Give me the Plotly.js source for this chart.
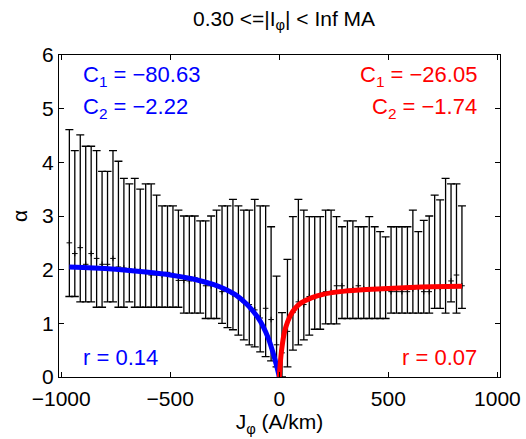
<!DOCTYPE html>
<html>
<head>
<meta charset="utf-8">
<script src="https://cdn.plot.ly/plotly-3.0.1.min.js"></script>
<style>html,body{margin:0;padding:0;background:#fff}#chart{width:526px;height:439px}</style>
</head>
<body>
<div id="chart"></div>
<script>
// Bin centres (A/km)
var leftJ = [-962.5, -937.5, -912.5, -887.5, -862.5, -837.5, -812.5, -787.5, -762.5, -737.5,
  -712.5, -687.5, -662.5, -637.5, -612.5, -587.5, -562.5, -537.5, -512.5, -487.5,
  -462.5, -437.5, -412.5, -387.5, -362.5, -337.5, -312.5, -287.5, -262.5, -237.5,
  -212.5, -187.5, -162.5, -137.5, -112.5, -87.5, -62.5, -37.5, -12.5];
var leftMean = [2.50, 2.30, 2.41, 2.10, 2.30, 2.21, 2.10, 2.10, 2.21, 2.05,
  2.03, 2.01, 2.00, 1.98, 1.95, 1.90, 1.90, 1.90, 1.95, 1.90,
  1.80, 1.80, 1.79, 1.85, 1.78, 1.70, 1.70, 1.70, 1.59, 1.62,
  1.55, 1.50, 1.40, 1.35, 1.25, 1.10, 1.28, 1.07, 0.60];
var leftUpper = [4.61, 4.22, 4.51, 4.30, 4.30, 4.22, 3.83, 3.83, 4.22, 4.02,
  3.70, 3.60, 3.70, 3.50, 3.60, 3.60, 3.39, 3.19, 3.19, 3.19,
  3.11, 3.00, 3.00, 3.00, 2.91, 2.91, 3.00, 3.11, 3.19, 3.19,
  3.31, 3.19, 3.11, 3.11, 3.31, 3.19, 3.19, 2.80, 1.88];
var leftLower = [1.50, 1.50, 1.40, 1.40, 1.40, 1.30, 1.30, 1.40, 1.40, 1.30,
  1.30, 1.40, 1.30, 1.30, 1.30, 1.30, 1.30, 1.30, 1.30, 1.30,
  1.30, 1.19, 1.19, 1.19, 1.19, 1.09, 1.09, 1.09, 1.00, 0.92,
  0.88, 0.78, 0.69, 0.60, 0.56, 0.47, 0.38, 0.30, 0.19];

var rightJ = [12.5, 37.5, 62.5, 87.5, 112.5, 137.5, 162.5, 187.5, 212.5, 237.5,
  262.5, 287.5, 312.5, 337.5, 362.5, 387.5, 412.5, 437.5, 462.5, 487.5,
  512.5, 537.5, 562.5, 587.5, 612.5, 637.5, 662.5, 687.5, 712.5, 737.5,
  762.5, 787.5, 812.5, 837.5];
var rightMean = [0.45, 0.85, 1.20, 1.40, 1.35, 1.50, 1.48, 1.52, 1.59, 1.58,
  1.70, 1.70, 1.62, 1.63, 1.70, 1.64, 1.63, 1.65, 1.62, 1.64,
  1.59, 1.59, 1.59, 1.59, 1.64, 1.66, 1.59, 1.59, 1.66, 1.67,
  1.68, 1.79, 1.90, 1.70];
var rightUpper = [1.20, 2.19, 2.99, 3.31, 3.11, 2.99, 2.99, 2.99, 3.11, 3.11,
  2.99, 2.80, 2.91, 2.91, 2.80, 2.80, 2.99, 2.80, 2.71, 2.61,
  2.80, 2.80, 2.80, 2.80, 3.11, 2.71, 2.92, 3.00, 3.39, 3.30,
  3.70, 3.60, 3.60, 3.19];
var rightLower = [0.00, 0.19, 0.50, 0.60, 0.69, 0.78, 0.89, 0.89, 0.99, 0.99,
  0.99, 1.09, 1.09, 1.09, 1.09, 1.09, 1.09, 1.09, 1.09, 1.09,
  1.19, 1.19, 1.19, 1.19, 1.19, 1.19, 1.19, 1.19, 1.28, 1.28,
  1.19, 1.40, 1.19, 1.28];

// Fitted curves
var blueX = [-962.5, -900, -800, -700, -600, -500, -400, -350, -300, -250, -200, -150, -125, -100, -75, -50, -30, -15, -5, 0];
var blueY = [2.05, 2.04, 2.02, 1.99, 1.95, 1.90, 1.83, 1.78, 1.72, 1.64, 1.53, 1.36, 1.25, 1.12, 0.95, 0.72, 0.47, 0.25, 0.09, 0];
var redX = [0, 5, 10, 20, 30, 50, 75, 100, 150, 200, 300, 400, 500, 600, 700, 837.5];
var redY = [0, 0.28, 0.48, 0.76, 0.93, 1.14, 1.29, 1.38, 1.48, 1.54, 1.60, 1.63, 1.65, 1.67, 1.68, 1.69];

var xTicks = [-1000, -500, 0, 500, 1000];
var yTicks = [0, 1, 2, 3, 4, 5, 6];

var titleText = '0.30 <=|I<sub>φ</sub>| < Inf MA';
var xTitle = 'J<sub>φ</sub> (A/km)';
var yTitle = 'α';
var leftLabels = ['C<sub>1</sub> = −80.63', 'C<sub>2</sub> = −2.22', 'r = 0.14'];
var rightLabels = ['C<sub>1</sub> = −26.05', 'C<sub>2</sub> = −1.74', 'r = 0.07'];

function diff(a, b) { return a.map(function (v, i) { return v - b[i]; }); }

function errTrace(x, mean, up, lo) {
  return {
    x: x, y: mean, type: 'scatter', mode: 'markers',
    marker: {symbol: 'cross-thin-open', size: 4, color: '#000', line: {color: '#000', width: 1}},
    error_y: {type: 'data', symmetric: false, array: diff(up, mean), arrayminus: diff(mean, lo),
      color: '#000', thickness: 1.3, width: 4},
    showlegend: false, hoverinfo: 'skip'
  };
}

var traces = [
  errTrace(leftJ, leftMean, leftUpper, leftLower),
  errTrace(rightJ, rightMean, rightUpper, rightLower),
  {x: blueX, y: blueY, type: 'scatter', mode: 'lines', line: {color: '#0000ff', width: 5, shape: 'spline', smoothing: 0.6}, showlegend: false},
  {x: redX, y: redY, type: 'scatter', mode: 'lines', line: {color: '#ff0000', width: 5, shape: 'spline', smoothing: 0.6}, showlegend: false}
];

var F = 'Liberation Sans, Arial, Helvetica, sans-serif';
function ann(text, x, y, anchor, color) {
  return {text: text, xref: 'paper', yref: 'paper', x: x, y: y, xanchor: anchor, yanchor: 'middle',
    showarrow: false, font: {family: F, size: 22, color: color}};
}

var layout = {
  width: 526, height: 439,
  margin: {l: 59, r: 26, t: 55, b: 62},
  paper_bgcolor: '#fff', plot_bgcolor: '#fff',
  font: {family: F, color: '#000', size: 21},
  title: {text: titleText, x: 0.54, xanchor: 'center', y: 0.958, yanchor: 'middle', font: {family: F, size: 21, color: '#000'}},
  xaxis: {
    range: [-1010, 1012], tickvals: xTicks, ticktext: xTicks.map(function (v) { return v < 0 ? '−' + Math.abs(v) : String(v); }),
    ticks: 'inside', ticklen: 5, tickcolor: '#000', mirror: 'ticks', showline: true, linecolor: '#000', linewidth: 1.2,
    showgrid: false, zeroline: false, tickfont: {family: F, size: 21, color: '#000'}, ticklabelstandoff: 3,
    title: {text: xTitle, font: {family: F, size: 21, color: '#000'}, standoff: 1}
  },
  yaxis: {
    range: [0, 6], tickvals: yTicks,
    ticks: 'inside', ticklen: 5, tickcolor: '#000', mirror: 'ticks', showline: true, linecolor: '#000', linewidth: 1.2,
    showgrid: false, zeroline: false, tickfont: {family: F, size: 21, color: '#000'},
    title: {text: yTitle, font: {family: F, size: 21, color: '#000'}, standoff: 8}
  },
  annotations: [
    ann(leftLabels[0], 0.050, 0.935, 'left', '#0000ff'),
    ann(leftLabels[1], 0.050, 0.835, 'left', '#0000ff'),
    ann(leftLabels[2], 0.050, 0.060, 'left', '#0000ff'),
    ann(rightLabels[0], 0.952, 0.935, 'right', '#ff0000'),
    ann(rightLabels[1], 0.952, 0.835, 'right', '#ff0000'),
    ann(rightLabels[2], 0.952, 0.060, 'right', '#ff0000')
  ]
};

Plotly.newPlot('chart', traces, layout, {displayModeBar: false, staticPlot: true});
</script>
</body>
</html>
